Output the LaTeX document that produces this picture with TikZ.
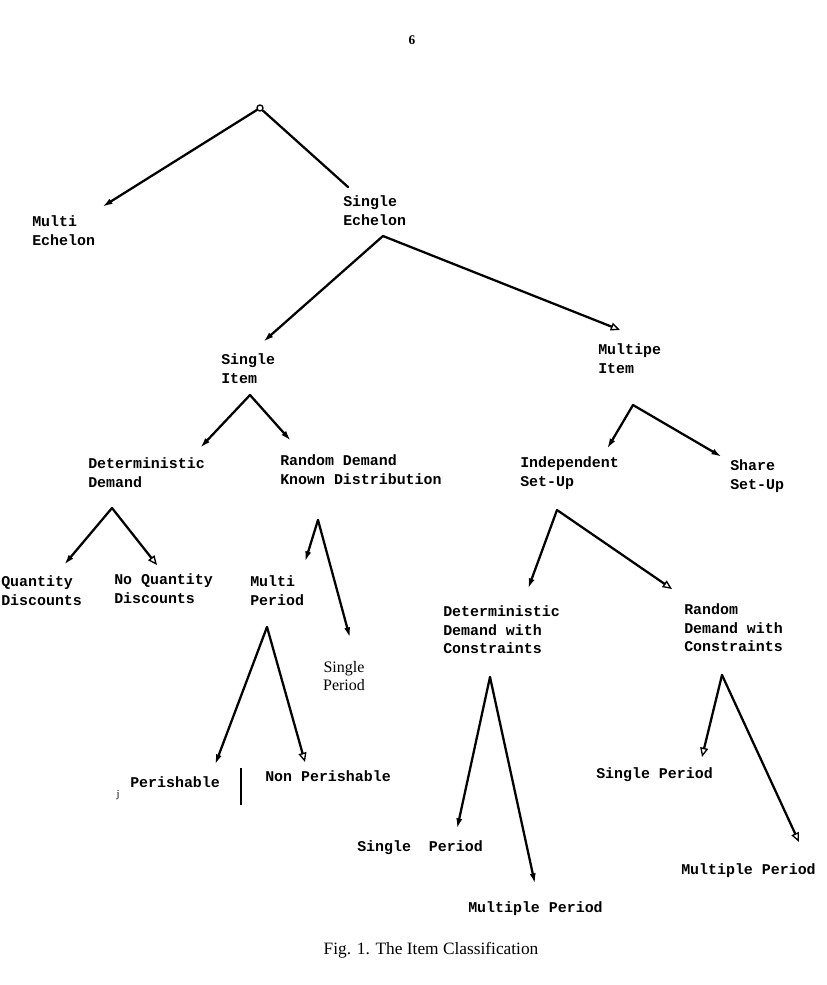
\documentclass[tikz,border=0pt]{standalone}
\usepackage{fontspec}
\newfontfamily\twfont{Liberation Mono}
\newfontfamily\srfont{Liberation Serif}
\usetikzlibrary{arrows.meta}
\begin{document}
\begin{tikzpicture}[x=0.75pt,y=-0.75pt,
  lbl/.style={anchor=north west, inner sep=0pt, align=left, font=\twfont\bfseries\fontsize{11.2pt}{13.9pt}\selectfont},
  blbl/.style={lbl},
  conn/.style={line width=1.7pt, line cap=round, line join=round},
  fa/.style={conn, -{Latex[length=8pt,width=4.5pt]}},
  oa/.style={conn, -{Triangle[open,length=7pt,width=6pt,line width=1pt]}},
]
\useasboundingbox[fill=white] (0,0) rectangle (827,985);

% page number
\node[font=\srfont\bfseries\fontsize{10pt}{12pt}\selectfont] (pagenum) at (412,40) {6};

% apexes and tips
\node[circle, draw, line width=1pt, inner sep=1.6pt] (root) at (260,108) {};
\coordinate (meT) at (102,207);
\coordinate (seT) at (348,187);
\coordinate (seA) at (383,236);
\coordinate (siT) at (263,342);
\coordinate (miT) at (620,330);
\coordinate (siA) at (250,395);
\coordinate (ddT) at (200,448);
\coordinate (rdT) at (291,441);
\coordinate (miA) at (633,405);
\coordinate (isT) at (607,449);
\coordinate (ssT) at (722,457);
\coordinate (ddA) at (112,508);
\coordinate (qdT) at (64,565);
\coordinate (nqT) at (157,565);
\coordinate (rdA) at (318,520);
\coordinate (mpT) at (305,562);
\coordinate (spT) at (350,638);
\coordinate (mpA) at (267,627);
\coordinate (peT) at (215,765);
\coordinate (npT) at (305,762);
\coordinate (isA) at (557,510);
\coordinate (dcT) at (528,589);
\coordinate (rcT) at (672,589);
\coordinate (dcA) at (490,677);
\coordinate (dspT) at (457,829);
\coordinate (dmpT) at (535,884);
\coordinate (rcA) at (722,675);
\coordinate (rspT) at (702,757);
\coordinate (rmpT) at (799,842);

% labels
\node[lbl] (me) at (32,215.5) {Multi\\Echelon};
\node[lbl] (se) at (343,195.5) {Single\\Echelon};
\node[lbl] (si) at (221,353.5) {Single\\Item};
\node[lbl] (mi) at (598,343.5) {Multipe\\Item};
\node[lbl] (dd) at (88,457.5) {Deterministic\\Demand};
\node[lbl] (rd) at (280,454.5) {Random Demand\\Known Distribution};
\node[blbl] (is) at (520,456.5) {Independent\\Set-Up};
\node[blbl] (ss) at (730,459.5) {Share\\Set-Up};
\node[lbl] (qd) at (1,575.5) {Quantity\\Discounts};
\node[lbl] (nq) at (114,573.5) {No Quantity\\Discounts};
\node[lbl] (mp) at (250,575.5) {Multi\\Period};
\node[anchor=north, inner sep=0pt, align=center, font=\srfont\fontsize{12pt}{13.9pt}\selectfont] (sp) at (344,661) {Single\\Period};
\node[blbl] (pe) at (130,776.5) {Perishable};
\node[font=\srfont\fontsize{8pt}{9pt}\selectfont, inner sep=0pt] (jmark) at (118,795) {j};
\coordinate (barTop) at (241,768);
\coordinate (barBot) at (241,805);
\draw[line width=1.4pt] (barTop) -- (barBot);
\node[lbl] (np) at (265,770.5) {Non Perishable};
\node[blbl] (dc) at (443,605.5) {Deterministic\\Demand with\\Constraints};
\node[blbl] (rc) at (684,603.5) {Random\\Demand with\\Constraints};
\node[blbl] (dsp) at (357,840.5) {Single\ \ Period};
\node[blbl] (dmp) at (468,901.5) {Multiple Period};
\node[blbl] (rsp) at (596,767.5) {Single Period};
\node[blbl] (rmp) at (681,863.5) {Multiple Period};

\node[font=\srfont\fontsize{13pt}{15pt}\selectfont] (cap) at (431,950) {Fig. 1. The Item Classification};

% connectors
\draw[fa] (root) -- (meT);
\draw[conn] (root) -- (seT);
\draw[fa] (seA) -- (siT);
\draw[oa] (seA) -- (miT);
\draw[fa] (siA) -- (ddT);
\draw[fa] (siA) -- (rdT);
\draw[fa] (miA) -- (isT);
\draw[fa] (miA) -- (ssT);
\draw[fa] (ddA) -- (qdT);
\draw[oa] (ddA) -- (nqT);
\draw[fa] (rdA) -- (mpT);
\draw[fa] (rdA) -- (spT);
\draw[fa] (mpA) -- (peT);
\draw[oa] (mpA) -- (npT);
\draw[fa] (isA) -- (dcT);
\draw[oa] (isA) -- (rcT);
\draw[fa] (dcA) -- (dspT);
\draw[fa] (dcA) -- (dmpT);
\draw[oa] (rcA) -- (rspT);
\draw[oa] (rcA) -- (rmpT);
\end{tikzpicture}
\end{document}
